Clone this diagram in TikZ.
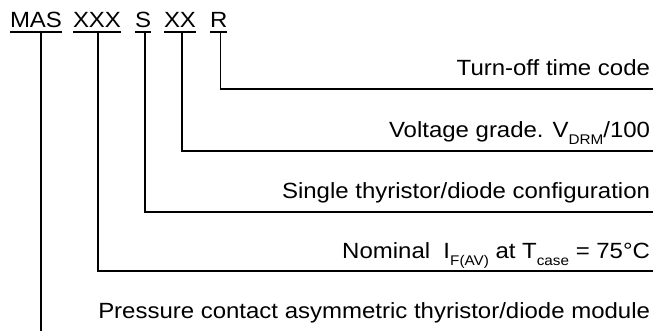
\documentclass[tikz,border=0pt]{standalone}
\usepackage{fontspec}
\setmainfont{Liberation Sans}[FakeStretch=1.09]
\usepackage{tikz}
\usetikzlibrary{calc}

% lowered small text for the indices
\newcommand{\lowsub}[1]{\raisebox{-7pt}{\fontsize{14}{14}\selectfont #1}}

\begin{document}
\begin{tikzpicture}[x=1pt, y=-1pt, font=\fontsize{22}{26}\selectfont, line width=1.3pt]
\useasboundingbox (0,0) rectangle (653,331);

% styles for the code letters and the descriptions
\tikzset{code/.style={anchor=base west, inner sep=0pt, outer sep=0pt, text depth=4pt}}
\tikzset{desc/.style={anchor=base east, inner sep=0pt, outer sep=0pt}}

% Code line at the top
\node[code] (mas) at (10,28)  {MAS};
\node[code] (xxx) at (73,28)  {XXX};
\node[code] (s)   at (135,28) {S};
\node[code] (xx)  at (164,28) {XX};
\node[code] (r)   at (210,28) {R};

% underlines
\foreach \n in {mas,xxx,s,xx,r}
  \draw (\n.south west) -- (\n.south east);

% Descriptions, right aligned
\node[desc] (toff)   at (650,76)  {Turn-off time code};
\node[desc] (volt)   at (650,138) {Voltage grade. V\lowsub{DRM}/100};
\node[desc] (single) at (650,199) {Single thyristor/diode configuration};
\node[desc] (nom)    at (650,258) {Nominal\ \ I\lowsub{F(AV)} at T\lowsub{case} = 75°C};
\node[desc] (press)  at (650,318) {Pressure contact asymmetric thyristor/diode module};

% free ends at the right edge and at the bottom
\coordinate (endr)   at (653,89);
\coordinate (endxx)  at (653,151);
\coordinate (ends)   at (653,212);
\coordinate (endxxx) at (653,271);
\coordinate (bottom) at (0,331);

% leader lines
\draw ([xshift=2pt]r.south)   |- (endr);
\draw ([xshift=2pt]xx.south)  |- (endxx);
\draw ([xshift=2pt]s.south)   |- (ends);
\draw ([xshift=1pt]xxx.south) |- (endxxx);
\draw ([xshift=5pt]mas.south) -- ([xshift=5pt]mas.south |- bottom);

\end{tikzpicture}
\end{document}
